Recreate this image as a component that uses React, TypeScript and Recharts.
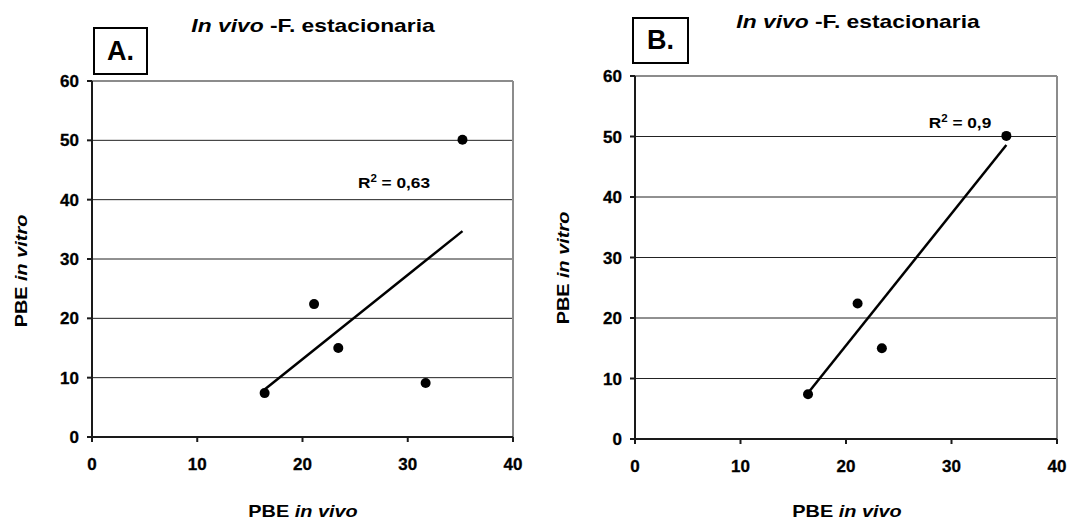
import { ScatterChart, Scatter, XAxis, YAxis, ReferenceLine } from "recharts";

const X_TICKS = [0, 10, 20, 30, 40];
const Y_TICKS = [0, 10, 20, 30, 40, 50, 60];
const GRID_Y = [10, 20, 30, 40, 50];

// panel A: all five samples
const pbeInVivoA = [16.4, 21.1, 23.4, 31.7, 35.2];
const pbeInVitroA = [7.4, 22.4, 15.0, 9.1, 50.1];
const trendXA = [16.4, 35.2];
const trendYA = [8.0, 34.7];

// panel B: outlier removed
const pbeInVivoB = [16.4, 21.1, 23.4, 35.2];
const pbeInVitroB = [7.4, 22.4, 15.0, 50.1];
const trendXB = [16.4, 35.2];
const trendYB = [7.6, 48.6];

const FONT = '"Liberation Sans", Arial, sans-serif';
const AXIS_STROKE = "#1a1a1a";
const TICK_STYLE = {
  fill: "#000",
  fontSize: 17,
  fontWeight: 700,
  fontFamily: FONT,
  stroke: "#000",
  strokeWidth: 0.3,
};

const toPoints = (xs: number[], ys: number[]) => xs.map((x, i) => ({ x, y: ys[i] }));

const Dot = (props: any) => <circle cx={props.cx} cy={props.cy} r={5} fill="#000" />;

interface PanelProps {
  left: number;
  width: number;
  margin: { top: number; right: number; bottom: number; left: number };
  points: { x: number; y: number }[];
  trend: { x: number; y: number }[];
}

function Panel({ left, width, margin, points, trend }: PanelProps) {
  return (
    <div style={{ position: "absolute", left, top: 0 }}>
      <ScatterChart width={width} height={525} margin={margin}>
        {GRID_Y.map((v) => (
          <ReferenceLine key={v} y={v} stroke="#222" strokeWidth={1} />
        ))}
        <ReferenceLine y={60} stroke="#8c8c8c" strokeWidth={2} />
        <ReferenceLine x={40} stroke="#8c8c8c" strokeWidth={2} />
        <XAxis
          type="number"
          dataKey="x"
          domain={[0, 40]}
          ticks={X_TICKS}
          interval={0}
          height={30}
          tickSize={5}
          tickMargin={16}
          axisLine={{ stroke: AXIS_STROKE, strokeWidth: 2 }}
          tickLine={{ stroke: AXIS_STROKE, strokeWidth: 2 }}
          tick={TICK_STYLE}
        />
        <YAxis
          type="number"
          dataKey="y"
          domain={[0, 60]}
          ticks={Y_TICKS}
          interval={0}
          width={40}
          tickSize={5}
          tickMargin={8}
          axisLine={{ stroke: AXIS_STROKE, strokeWidth: 2 }}
          tickLine={{ stroke: AXIS_STROKE, strokeWidth: 2 }}
          tick={TICK_STYLE}
        />
        <Scatter
          data={trend}
          line={{ stroke: "#000", strokeWidth: 2.5 }}
          shape={() => <g />}
          legendType="none"
          isAnimationActive={false}
        />
        <Scatter data={points} shape={Dot} isAnimationActive={false} />
      </ScatterChart>
    </div>
  );
}

const abs = (
  x: number,
  y: number,
  size: number,
  stretch: number,
  rotate = 0
): React.CSSProperties => ({
  position: "absolute",
  left: x,
  top: y,
  transform: `translate(-50%, -50%) rotate(${rotate}deg) scaleX(${stretch})`,
  whiteSpace: "nowrap",
  fontFamily: FONT,
  fontWeight: 700,
  fontSize: size,
  color: "#000",
  lineHeight: 1,
});

function Title({ x, y }: { x: number; y: number }) {
  return (
    <div style={abs(x, y, 19, 1.2)}>
      <i>In vivo</i> -F. estacionaria
    </div>
  );
}

function Tag({ x, y, w, h, text }: { x: number; y: number; w: number; h: number; text: string }) {
  return (
    <div
      style={{
        position: "absolute",
        left: x,
        top: y,
        width: w,
        height: h,
        boxSizing: "border-box",
        border: "2px solid #000",
        background: "#fff",
        display: "flex",
        alignItems: "center",
        justifyContent: "center",
        fontFamily: FONT,
        fontWeight: 700,
        fontSize: 27,
      }}
    >
      {text}
    </div>
  );
}

function R2({ x, y, value }: { x: number; y: number; value: string }) {
  return (
    <div style={abs(x, y, 15, 1.15)}>
      R<sup style={{ fontSize: 10, verticalAlign: "6px" }}>2</sup> = {value}
    </div>
  );
}

export default function App() {
  return (
    <div
      style={{
        position: "absolute",
        left: 0,
        top: 0,
        width: 1069,
        height: 525,
        background: "#fff",
        overflow: "hidden",
      }}
    >
      <Panel
        left={0}
        width={540}
        margin={{ top: 81, right: 27, bottom: 58, left: 52 }}
        points={toPoints(pbeInVivoA, pbeInVitroA)}
        trend={toPoints(trendXA, trendYA)}
      />
      <Panel
        left={540}
        width={529}
        margin={{ top: 76, right: 12, bottom: 56, left: 55 }}
        points={toPoints(pbeInVivoB, pbeInVitroB)}
        trend={toPoints(trendXB, trendYB)}
      />

      <Title x={313} y={25} />
      <Title x={858} y={21} />
      <Tag x={93} y={27} w={55} h={48} text="A." />
      <Tag x={632} y={17} w={57} h={47} text="B." />

      <R2 x={394} y={182} value="0,63" />
      <R2 x={960} y={122} value="0,9" />

      <div style={abs(21, 271, 17, 1.17, -90)}>
        PBE <i>in vitro</i>
      </div>
      <div style={abs(563, 268, 17, 1.17, -90)}>
        PBE <i>in vitro</i>
      </div>
      <div style={abs(303, 511, 17, 1.17)}>
        PBE <i>in vivo</i>
      </div>
      <div style={abs(847, 511, 17, 1.17)}>
        PBE <i>in vivo</i>
      </div>
    </div>
  );
}
